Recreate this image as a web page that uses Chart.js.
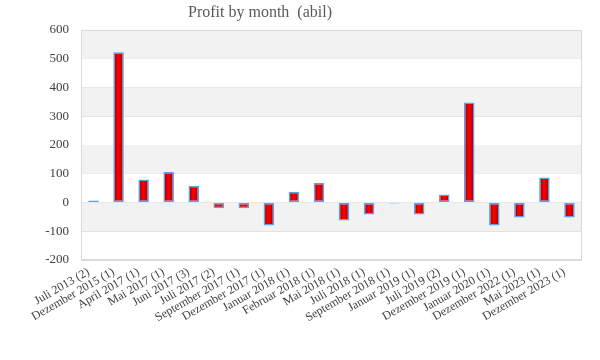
<!DOCTYPE html>
<html>
<head>
<meta charset="utf-8">
<script src="https://cdn.jsdelivr.net/npm/chart.js@4"></script>
<style>
    html, body { margin: 0; padding: 0; background: #fff; }
    #wrap { width: 600px; height: 360px; }
</style>
</head>
<body>
<div id="wrap"><canvas id="profitChart"></canvas></div>
<script>
const months = [
    "Juli 2013 (2)", "Dezember 2015 (1)", "April 2017 (1)", "Mai 2017 (1)", "Juni 2017 (3)",
    "Juli 2017 (2)", "September 2017 (1)", "Dezember 2017 (1)", "Januar 2018 (1)", "Februar 2018 (1)",
    "Mai 2018 (1)", "Juli 2018 (1)", "September 2018 (1)", "Januar 2019 (1)", "Juli 2019 (2)",
    "Dezember 2019 (1)", "Januar 2020 (1)", "Dezember 2022 (1)", "Mai 2023 (1)", "Dezember 2023 (1)"
];
const profit = [7, 523, 80, 106, 58, -20, -20, -80, 37, 68, -63, -42, -1, -42, 28, 348, -80, -52, 87, -52];

// alternating grey bands, [from, to]
const greyBands = [[500, 600], [300, 400], [100, 200], [-100, 0]];

const TITLE = "Profit by month  (abil)";
const FONT = "'Liberation Serif', 'DejaVu Serif', serif";

/* ===============================
   PLOT BACKGROUND + TITLE
=================================*/

const bandPlugin = {
    id: "bands",
    beforeDatasetsDraw(chart) {
        const { ctx, chartArea: a, scales: { y } } = chart;
        ctx.save();
        ctx.fillStyle = "#f2f2f2";
        greyBands.forEach(([lo, hi]) => {
            const top = y.getPixelForValue(hi);
            const bot = y.getPixelForValue(lo);
            ctx.fillRect(a.left, top, a.right - a.left, bot - top);
        });
        ctx.restore();
    },
    afterDatasetsDraw(chart) {
        const { ctx, chartArea: a } = chart;
        ctx.save();
        ctx.strokeStyle = "#d9d9d9";
        ctx.lineWidth = 1;
        ctx.strokeRect(a.left + 0.5, a.top + 0.5, a.right - a.left - 1, a.bottom - a.top - 1);

        // title sits left of the plot centre in the original
        ctx.fillStyle = "#595959";
        ctx.font = "16px " + FONT;
        ctx.textAlign = "center";
        ctx.textBaseline = "middle";
        ctx.fillText(TITLE, 260, 13);
        ctx.restore();
    }
};

function barFill(c) {
    const chart = c.chart;
    const xs = chart.scales.x;
    if (!xs || c.dataIndex === undefined) return "#e00000";
    const cx = xs.getPixelForValue(c.dataIndex);
    if (!Number.isFinite(cx)) return "#e00000";
    const half = 5;
    const g = chart.ctx.createLinearGradient(cx - half, 0, cx + half, 0);
    g.addColorStop(0, "#8c0000");
    g.addColorStop(0.45, "#ff0000");
    g.addColorStop(1, "#a00000");
    return g;
}

new Chart(document.getElementById("profitChart"), {
    type: "bar",
    data: {
        labels: months,
        datasets: [{
            label: "Profit",
            data: profit,
            backgroundColor: barFill,
            borderColor: "#5aa2f0",
            borderWidth: 1.5,
            borderSkipped: false,
            barPercentage: 0.42,
            categoryPercentage: 1.0,
            minBarLength: 1
        }]
    },
    options: {
        responsive: true,
        maintainAspectRatio: false,
        animation: false,
        layout: { padding: { left: 10, right: 18, top: 30, bottom: 10 } },
        plugins: {
            legend: { display: false },
            tooltip: { enabled: false },
            title: { display: false }
        },
        scales: {
            x: {
                grid: { display: false },
                border: { display: false },
                ticks: {
                    color: "#404040",
                    font: { family: FONT, size: 12 },
                    minRotation: 30,
                    maxRotation: 30,
                    autoSkip: false,
                    padding: -3,
                    labelOffset: -5
                },
                afterFit(scale) { scale.height = 90; }
            },
            y: {
                min: -200,
                max: 600,
                grid: { color: "#dcdcdc", lineWidth: 1, drawTicks: false },
                border: { display: false },
                ticks: {
                    stepSize: 100,
                    color: "#404040",
                    font: { family: FONT, size: 13 },
                    padding: 12
                },
                afterFit(scale) { scale.width = 71; }
            }
        }
    },
    plugins: [bandPlugin]
});
</script>
</body>
</html>
